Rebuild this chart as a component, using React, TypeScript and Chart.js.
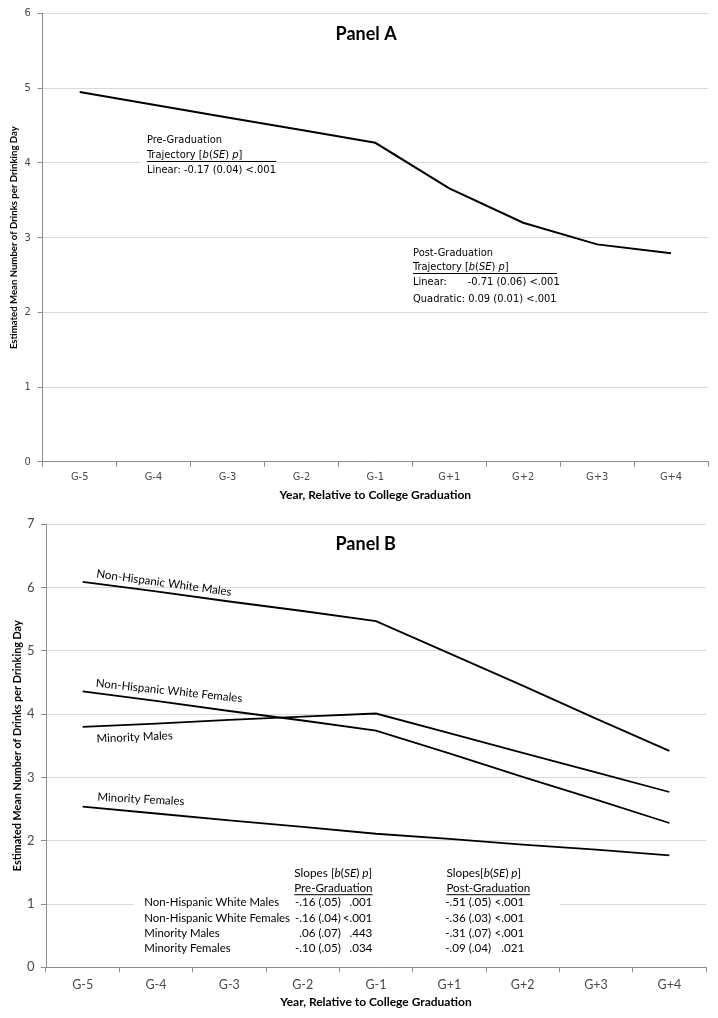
import React, { useEffect, useRef } from "react";
import { Chart, registerables } from "chart.js";

Chart.register(...registerables);

// ---------- data ----------
const years = ["G-5", "G-4", "G-3", "G-2", "G-1", "G+1", "G+2", "G+3", "G+4"];

const panelAValues = [4.95, 4.78, 4.61, 4.44, 4.27, 3.66, 3.2, 2.91, 2.79];
const panelAYTicks = [0, 1, 2, 3, 4, 5, 6];

const nhwMales = [6.09, 5.94, 5.78, 5.63, 5.47, 4.96, 4.45, 3.93, 3.42];
const nhwFemales = [4.36, 4.21, 4.05, 3.9, 3.74, 3.38, 3.01, 2.65, 2.28];
const minMales = [3.8, 3.85, 3.91, 3.96, 4.01, 3.7, 3.39, 3.08, 2.77];
const minFemales = [2.54, 2.43, 2.32, 2.22, 2.11, 2.03, 1.94, 1.86, 1.77];
const panelBYTicks = [0, 1, 2, 3, 4, 5, 6, 7];

const groupNames = [
  "Non-Hispanic White Males",
  "Non-Hispanic White Females",
  "Minority Males",
  "Minority Females",
];
const preSlopes = ["-.16 (.05)", "-.16 (.04)", ".06 (.07)", "-.10 (.05)"];
const preP = [".001", "<.001", ".443", ".034"];
const postSlopes = ["-.51 (.05)", "-.36 (.03)", "-.31 (.07)", "-.09 (.04)"];
const postP = ["<.001", "<.001", "<.001", ".021"];

const yTitle = "Estimated Mean Number of Drinks per Drinking Day";
const xTitle = "Year, Relative to College Graduation";

// ---------- styles ----------
const FAM_A = '"DejaVu Sans Condensed", "DejaVu Sans", sans-serif';
const FAM_B = "Lato, sans-serif";
const AXIS = "#8c8c8c";
const GRID = "#d9d9d9";
const TICK_TXT = "#4a4a4a";

type Seg = [string, boolean];
type TextItem = {
  segs: Seg[];
  x: number;
  y: number;
  align?: "left" | "right" | "center";
  underline?: boolean;
  angle?: number;
  size: number;
  family: string;
  weight?: string;
};
type BoxItem = { x0: number; x1: number; y0: number; y1: number };
type LineItem = { x0: number; x1: number; y: number };

const plain = (t: string): Seg[] => [[t, false]];
const bsep = (prefix: string, nospace = false): Seg[] => [
  [prefix + (nospace ? "[" : " ["), false],
  ["b", true],
  ["(", false],
  ["SE", true],
  [")", false],
  [" p", true],
  ["]", false],
];

function fontStr(size: number, family: string, weight: string | undefined, italic: boolean) {
  return `${italic ? "italic " : ""}${weight || "normal"} ${size}px ${family}`;
}

function annotations(id: string, boxes: BoxItem[], lines: LineItem[], texts: TextItem[]) {
  return {
    id,
    beforeDatasetsDraw(chart: any) {
      const { ctx, scales } = chart;
      const xs = scales.x;
      const ys = scales.y;
      ctx.save();
      ctx.fillStyle = "#ffffff";
      for (const b of boxes) {
        const x0 = xs.getPixelForValue(b.x0);
        const x1 = xs.getPixelForValue(b.x1);
        const y0 = ys.getPixelForValue(b.y0);
        const y1 = ys.getPixelForValue(b.y1);
        ctx.fillRect(x0, y0, x1 - x0, y1 - y0);
      }
      ctx.restore();
    },
    afterDatasetsDraw(chart: any) {
      const { ctx, scales } = chart;
      const xs = scales.x;
      const ys = scales.y;
      ctx.save();
      ctx.fillStyle = "#000";
      for (const l of lines) {
        const x0 = xs.getPixelForValue(l.x0);
        const x1 = xs.getPixelForValue(l.x1);
        const y = Math.round(ys.getPixelForValue(l.y));
        ctx.fillRect(x0, y, x1 - x0, 1);
      }
      for (const t of texts) {
        const px = xs.getPixelForValue(t.x);
        const py = ys.getPixelForValue(t.y);
        const widths = t.segs.map(([s, it]) => {
          ctx.font = fontStr(t.size, t.family, t.weight, it);
          return ctx.measureText(s).width;
        });
        const total = widths.reduce((a, b) => a + b, 0);
        let cx = t.align === "right" ? -total : t.align === "center" ? -total / 2 : 0;
        const start = cx;
        ctx.save();
        ctx.translate(px, py);
        if (t.angle) ctx.rotate((t.angle * Math.PI) / 180);
        ctx.textBaseline = "middle";
        ctx.textAlign = "left";
        t.segs.forEach(([s, it], i) => {
          ctx.font = fontStr(t.size, t.family, t.weight, it);
          ctx.fillText(s, cx, 0);
          cx += widths[i];
        });
        if (t.underline) {
          ctx.fillRect(start, Math.round(t.size * 0.55), total, 1);
        }
        ctx.restore();
      }
      ctx.restore();
    },
  };
}

// ---------- Panel A ----------
function buildA() {
  const texts: TextItem[] = [
    { segs: plain("Panel A"), x: 3.875, y: 5.73, align: "center", size: 18, family: FAM_B, weight: "bold" },
    { segs: plain("Pre-Graduation"), x: 0.91, y: 4.3, size: 11, family: FAM_A },
    { segs: bsep("Trajectory"), x: 0.91, y: 4.1, size: 11, family: FAM_A },
    { segs: plain("Linear: -0.17 (0.04) <.001"), x: 0.91, y: 3.9, size: 11, family: FAM_A },
    { segs: plain("Post-Graduation"), x: 4.51, y: 2.795, size: 11, family: FAM_A },
    { segs: bsep("Trajectory"), x: 4.51, y: 2.608, size: 11, family: FAM_A },
    { segs: plain("Linear:"), x: 4.51, y: 2.399, size: 11, family: FAM_A },
    { segs: plain("-0.71 (0.06) <.001"), x: 5.25, y: 2.399, size: 11, family: FAM_A },
    { segs: plain("Quadratic: 0.09 (0.01) <.001"), x: 4.51, y: 2.176, size: 11, family: FAM_A },
  ];
  const boxes: BoxItem[] = [{ x0: 0.82, x1: 2.67, y0: 4.41, y1: 3.8 }];
  const lines: LineItem[] = [
    { x0: 0.91, x1: 2.66, y: 4.02 },
    { x0: 4.51, x1: 6.455, y: 2.533 },
  ];
  return {
    type: "line",
    data: {
      labels: years,
      datasets: [
        { data: panelAValues, borderColor: "#000", borderWidth: 2, pointRadius: 0, tension: 0, fill: false },
      ],
    },
    options: {
      responsive: false,
      animation: false,
      layout: { padding: { top: 13, right: 10, left: 0, bottom: 0 } },
      plugins: { legend: { display: false }, tooltip: { enabled: false }, title: { display: false } },
      scales: {
        x: {
          type: "category",
          offset: true,
          grid: { offset: true, drawOnChartArea: false, drawTicks: true, tickLength: 5, tickColor: AXIS },
          border: { color: AXIS },
          ticks: { font: { family: FAM_A, size: 11 }, color: TICK_TXT, padding: 4, maxRotation: 0, autoSkip: false },
          title: { display: true, text: xTitle, color: "#000", font: { family: FAM_B, size: 12, weight: "bold" }, padding: { top: 0, bottom: 8 } },
          afterFit: (s: any) => {
            s.height = 48.3;
          },
        },
        y: {
          min: 0,
          max: 6,
          afterBuildTicks: (s: any) => {
            s.ticks = panelAYTicks.map((v) => ({ value: v }));
          },
          grid: { color: GRID, tickColor: AXIS, tickLength: 5 },
          border: { color: AXIS },
          ticks: { font: { family: FAM_A, size: 11 }, color: TICK_TXT, padding: 7 },
          title: { display: true, text: yTitle, color: "#000", font: { family: FAM_B, size: 9.6, weight: "bold" }, padding: { top: 8.5, bottom: 0 } },
          afterFit: (s: any) => {
            s.width = 42.7;
          },
        },
      },
    },
    plugins: [annotations("annA", boxes, lines, texts)],
  };
}

// ---------- Panel B ----------
function buildB() {
  const series = [nhwMales, nhwFemales, minMales, minFemales];
  const labelPos = [
    { x: 0.19, y: 6.22, angle: 7.8 },
    { x: 0.18, y: 4.49, angle: 6 },
    { x: 0.19, y: 3.61, angle: -2.5 },
    { x: 0.2, y: 2.69, angle: 2.9 },
  ];
  const rowY = [1.03, 0.78, 0.54, 0.3];
  const texts: TextItem[] = [
    { segs: plain("Panel B"), x: 3.86, y: 6.68, align: "center", size: 18, family: FAM_B, weight: "bold" },
    ...groupNames.map((g, i) => ({
      segs: plain(g),
      x: labelPos[i].x,
      y: labelPos[i].y,
      angle: labelPos[i].angle,
      size: 11.5,
      family: FAM_B,
    })),
    { segs: bsep("Slopes"), x: 2.885, y: 1.485, size: 11.8, family: FAM_B },
    { segs: plain("Pre-Graduation"), x: 2.885, y: 1.25, size: 11.6, family: FAM_B, underline: true },
    { segs: bsep("Slopes", true), x: 4.96, y: 1.485, size: 11.8, family: FAM_B },
    { segs: plain("Post-Graduation"), x: 4.96, y: 1.25, size: 11.6, family: FAM_B, underline: true },
    ...groupNames.map((g, i) => ({ segs: plain(g), x: 0.84, y: rowY[i], size: 11.4, family: FAM_B })),
    ...preSlopes.map((s, i) => ({ segs: plain(s), x: 3.52, y: rowY[i], align: "right" as const, size: 11.6, family: FAM_B })),
    ...preP.map((s, i) => ({ segs: plain(s), x: 3.95, y: rowY[i], align: "right" as const, size: 11.6, family: FAM_B })),
    ...postSlopes.map((s, i) => ({ segs: plain(s), x: 5.57, y: rowY[i], align: "right" as const, size: 11.6, family: FAM_B })),
    ...postP.map((s, i) => ({ segs: plain(s), x: 6.02, y: rowY[i], align: "right" as const, size: 11.6, family: FAM_B })),
  ];
  const boxes: BoxItem[] = [{ x0: 0.7, x1: 6.51, y0: 1.66, y1: 0.15 }];
  return {
    type: "line",
    data: {
      labels: years,
      datasets: series.map((d) => ({
        data: d,
        borderColor: "#000",
        borderWidth: 1.8,
        pointRadius: 0,
        tension: 0,
        fill: false,
      })),
    },
    options: {
      responsive: false,
      animation: false,
      layout: { padding: { top: 12.7, right: 12, left: 0, bottom: 0 } },
      plugins: { legend: { display: false }, tooltip: { enabled: false }, title: { display: false } },
      scales: {
        x: {
          type: "category",
          offset: true,
          grid: { offset: true, drawOnChartArea: false, drawTicks: true, tickLength: 5, tickColor: AXIS },
          border: { color: AXIS },
          ticks: { font: { family: FAM_B, size: 12.5 }, color: TICK_TXT, padding: 5, maxRotation: 0, autoSkip: false },
          title: { display: true, text: xTitle, color: "#000", font: { family: FAM_B, size: 12, weight: "bold" }, padding: { top: 0, bottom: 9 } },
          afterFit: (s: any) => {
            s.height = 50.7;
          },
        },
        y: {
          min: 0,
          max: 7,
          afterBuildTicks: (s: any) => {
            s.ticks = panelBYTicks.map((v) => ({ value: v }));
          },
          grid: { color: GRID, tickColor: AXIS, tickLength: 5 },
          border: { color: AXIS },
          ticks: { font: { family: FAM_B, size: 13 }, color: TICK_TXT, padding: 6.5 },
          title: { display: true, text: yTitle, color: "#000", font: { family: FAM_B, size: 10.8, weight: "bold" }, padding: { top: 11, bottom: 0 } },
          afterFit: (s: any) => {
            s.width = 46;
          },
        },
      },
    },
    plugins: [annotations("annB", boxes, [], texts)],
  };
}

function Panel({ build, top, height }: { build: () => any; top: number; height: number }) {
  const ref = useRef<HTMLCanvasElement>(null);
  useEffect(() => {
    const chart = new Chart(ref.current as HTMLCanvasElement, build());
    return () => chart.destroy();
  }, []);
  return (
    <canvas
      ref={ref}
      width={718}
      height={height}
      style={{ position: "absolute", left: 0, top, width: 718, height, display: "block" }}
    />
  );
}

export default function App() {
  return (
    <div style={{ position: "absolute", left: 0, top: 0, width: 718, height: 1018, background: "#fff" }}>
      <Panel build={buildA} top={0} height={510} />
      <Panel build={buildB} top={510} height={508} />
    </div>
  );
}
